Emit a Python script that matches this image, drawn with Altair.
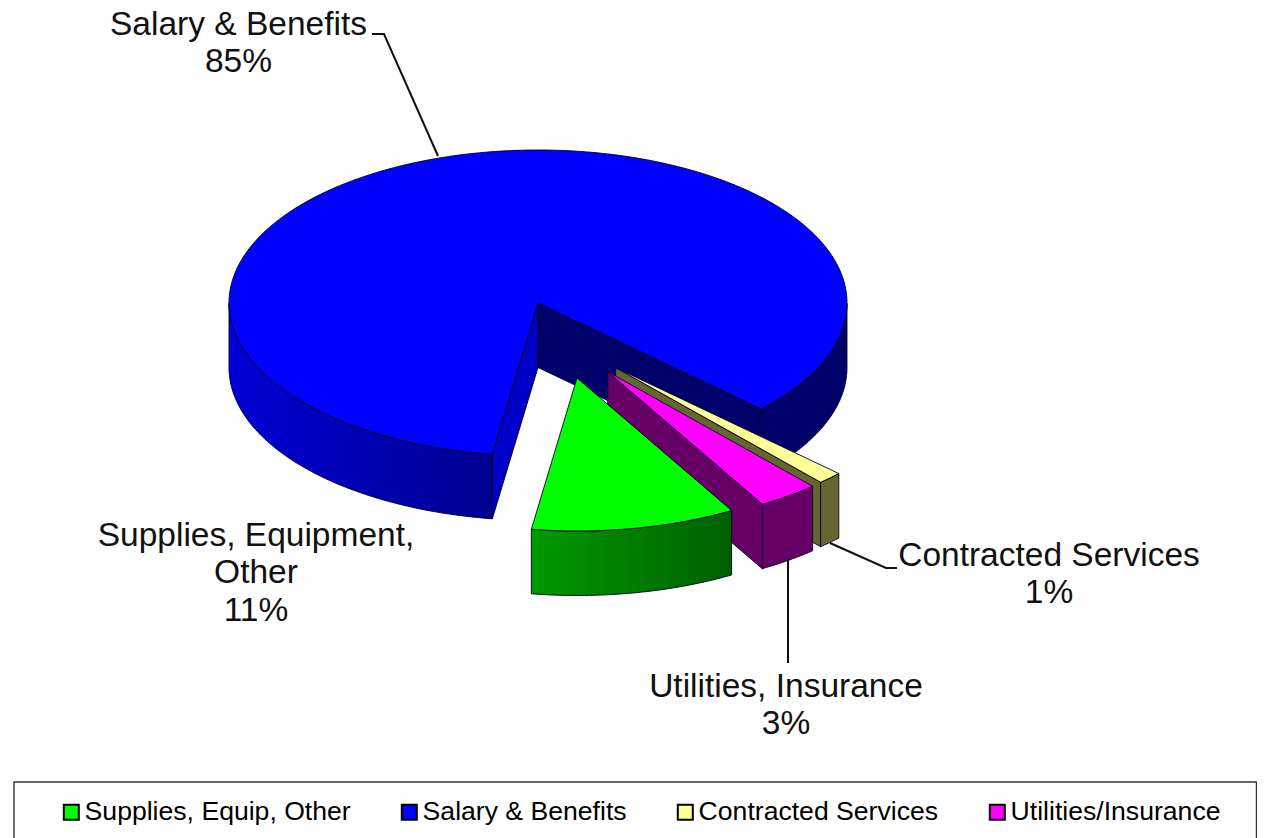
import math
import altair as alt

# --- values ---
categories = ["Supplies, Equip, Other", "Salary & Benefits", "Contracted Services", "Utilities/Insurance"]
shares = [10.7, 84.8, 1.3, 3.2]
top_colors = ["#00ff00", "#0000ff", "#ffff99", "#ff00ff"]
callouts = ["Supplies, Equipment,\nOther", "Salary & Benefits", "Contracted Services", "Utilities, Insurance"]

# --- pie geometry (image pixels) ---
FONT = "Liberation Sans"
CX, CY, RX, RY, DEPTH = 538, 303, 309, 153, 64.5
START = -8.5
sweep_order = [0, 3, 2, 1]
explode = {0: (39, 75), 3: (69.7, 68.7), 2: (77.7, 64.7), 1: (0, 0)}
OUTLINE = dict(stroke="#000020", strokeWidth=0.9)


def spans():
    out, a = {}, START
    for i in sweep_order:
        out[i] = (a, a + shares[i] * 3.6)
        a += shares[i] * 3.6
    return out


def pt(i, deg, drop=0):
    ox, oy = explode[i]
    t = math.radians(deg)
    return [CX + ox + RX * math.sin(t), CY + oy + RY * math.cos(t) + drop]


def apex(i, drop=0):
    ox, oy = explode[i]
    return [CX + ox, CY + oy + drop]


def arc(i, a, b, drop=0):
    n = max(2, int(abs(b - a)) + 1)
    return [pt(i, a + (b - a) * k / n, drop) for k in range(n + 1)]


def feature(kind, coords, **props):
    if kind == "Polygon":
        coords = [coords + [coords[0]]]
    return {"type": "Feature", "properties": props, "geometry": {"type": kind, "coordinates": coords}}


def shape(coords, fill):
    return alt.Chart(alt.InlineData(values=[feature("Polygon", coords)])).mark_geoshape(fill=fill, **OUTLINE)


def wall(i, a, b, fill):
    return shape(arc(i, a, b) + arc(i, b, a, DEPTH), fill)


def edge(i, deg, fill):
    p = pt(i, deg)
    return shape([apex(i), p, pt(i, deg, DEPTH), apex(i, DEPTH)], fill)


legend = alt.Legend(
    title=None, orient="none", legendX=50, legendY=791, direction="horizontal", columns=4,
    symbolType="square", symbolSize=225, symbolStrokeColor="#000000", symbolStrokeWidth=2, symbolOpacity=1,
    labelFont=FONT, labelFontSize=26.6, labelColor="#000000", labelLimit=0, labelOffset=0,
    columnPadding=45, padding=0, symbolOffset=0,
)


def top(i):
    a, b = spans()[i]
    coords = [apex(i)] + arc(i, a, b)
    data = alt.InlineData(values=[feature("Polygon", coords, name=categories[i])])
    return alt.Chart(data).mark_geoshape(**OUTLINE).encode(
        color=alt.Color("properties.name:N", scale=alt.Scale(domain=categories, range=top_colors), legend=legend)
    )


def grad(left, right):
    return alt.Gradient(gradient="linear", x1=0, x2=1, y1=0, y2=0,
                        stops=[alt.GradientStop(offset=0, color=left), alt.GradientStop(offset=1, color=right)])


S = spans()
layers = [
    # Salary & Benefits
    wall(1, S[1][0], 90, "#00006a"),
    edge(1, S[1][0], "#00006a"),
    wall(1, 270, S[1][1], grad("#0000d6", "#000090")),
    edge(1, S[1][1], "#0000c8"),
    top(1),
    # Contracted Services
    edge(2, S[2][0], "#666633"),
    wall(2, S[2][0], S[2][1], "#666633"),
    top(2),
    # Utilities/Insurance
    edge(3, S[3][0], "#660066"),
    wall(3, S[3][0], S[3][1], "#660066"),
    top(3),
    # Supplies
    wall(0, S[0][0], S[0][1], grad("#009a00", "#006000")),
    top(0),
]

# --- leader lines and legend frame ---
leaders = [
    [[372, 34], [384, 34], [438, 156]],
    [[830, 543], [886, 568], [897, 568]],
    [[788, 560], [788, 663]],
]
for line in leaders:
    layers.append(alt.Chart(alt.InlineData(values=[feature("LineString", line)])).mark_geoshape(
        filled=False, stroke="#111111", strokeWidth=2))
frame = [[14, 845], [14, 782], [1256.5, 782], [1256.5, 845]]
layers.append(alt.Chart(alt.InlineData(values=[feature("LineString", frame)])).mark_geoshape(
    filled=False, stroke="#333333", strokeWidth=1.4))

# --- callout labels (position of each first line) ---
label_pos = {1: (238.5, 24.5), 0: (256, 535.5), 2: (1049, 555.5), 3: (786, 686.5)}
rows = [
    {"lon": label_pos[i][0], "lat": label_pos[i][1], "t": f"{callouts[i]}\n{round(shares[i])}%"}
    for i in range(4)
]
layers.append(alt.Chart(alt.Data(values=rows)).mark_text(
    font=FONT, fontSize=33.5, color="#111111", align="center", baseline="middle",
    lineBreak="\n", lineHeight=37.5,
).encode(longitude="lon:Q", latitude="lat:Q", text="t:N"))

chart = alt.layer(*layers).properties(
    width=1249, height=830, padding=0,
    autosize=alt.AutoSizeParams(type="none"),
    projection=alt.Projection(type="identity", scale=1, translate=[-8, -8]),
    background="white",
).configure_view(stroke=None)

chart.save("out.html", embed_options={"renderer": "svg", "actions": False})
